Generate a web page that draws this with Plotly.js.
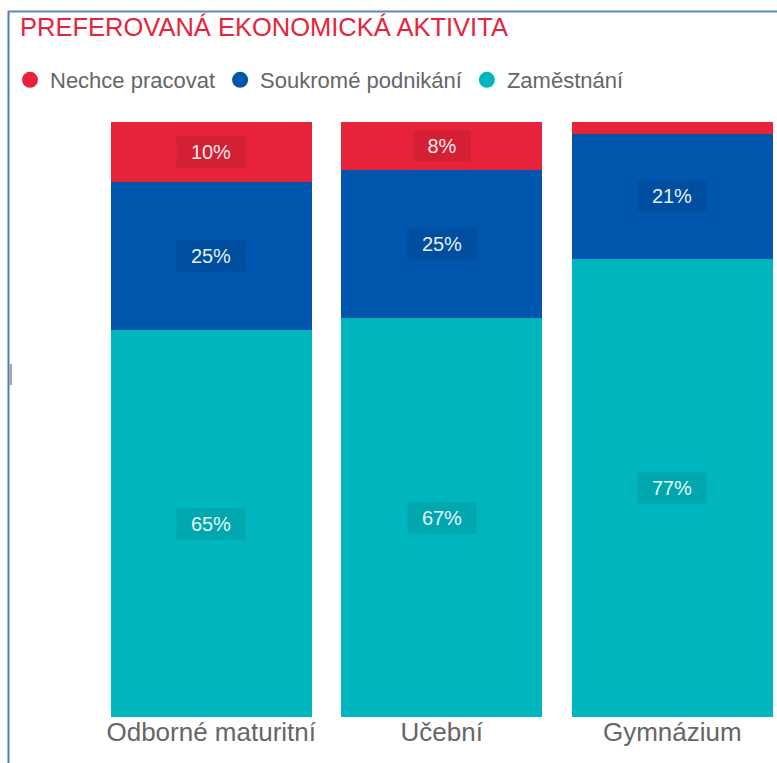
<!DOCTYPE html>
<html>
<head>
<meta charset="utf-8">
<script src="https://cdn.plot.ly/plotly-3.0.1.min.js"></script>
<style>
html,body{margin:0;padding:0;background:#fff;}
#chart{width:777px;height:763px;}
</style>
</head>
<body>
<div id="chart"></div>
<script>
// Data
const categories = ["Odborné maturitní", "Učební", "Gymnázium"];
const seriesNames = ["Nechce pracovat", "Soukromé podnikání", "Zaměstnání"];
const nechcePracovat = [10, 8, 2];
const soukromePodnikani = [25, 25, 21];
const zamestnani = [65, 67, 77];
const titleText = "PREFEROVANÁ EKONOMICKÁ AKTIVITA";

const colors = ["#E6233A", "#0055AD", "#00B6BE"];
const FONT = "Liberation Sans, Arial, sans-serif";
const W = 777, H = 763;
const M = {l: 96, r: 0, t: 122, b: 46};
const plotW = W - M.l - M.r, plotH = H - M.t - M.b;
const pxPerCat = 230.5;

const seriesValues = [nechcePracovat, soukromePodnikani, zamestnani];
// Stack order: bottom = Zaměstnání, then Soukromé, then Nechce on top
const stackOrder = [2, 1, 0];

const barTraces = stackOrder.map(i => ({
  type: "bar",
  name: seriesNames[i],
  x: categories,
  y: seriesValues[i],
  marker: {color: colors[i], line: {width: 0}},
  showlegend: false,
  hoverinfo: "skip"
}));

// Legend entries with circle symbols
const legendTraces = [0, 1, 2].map(i => ({
  type: "scatter",
  mode: "markers",
  name: seriesNames[i],
  x: [null], y: [null],
  marker: {color: colors[i], size: 16, symbol: "circle"},
  showlegend: true,
  hoverinfo: "skip"
}));

// Labels with dark translucent box, centered in each segment
const annotations = [];
categories.forEach((cat, ci) => {
  let base = 0;
  stackOrder.forEach(si => {
    const v = seriesValues[si][ci];
    if (v >= 5) {
      const txt = v + "%";
      annotations.push({
        x: cat, y: base + v / 2, xref: "x", yref: "y",
        text: txt, showarrow: false,
        font: {family: FONT, size: 20, color: "rgba(255,255,255,0.93)"},
        bgcolor: "rgba(0,0,0,0.08)",
        borderpad: 0,
        width: txt.length >= 3 ? 68 : 56,
        height: 30,
        xanchor: "center", yanchor: "middle"
      });
    }
    base += v;
  });
});

const px2paperX = px => (px - M.l) / plotW;
const px2paperY = py => (H - M.b - py) / plotH;

const shapes = [
  {type: "line", xref: "paper", yref: "paper",
   x0: px2paperX(8.5), x1: px2paperX(8.5), y0: px2paperY(11), y1: px2paperY(763),
   line: {color: "#4A7CC4", width: 2}},
  {type: "line", xref: "paper", yref: "paper",
   x0: px2paperX(8), x1: px2paperX(777), y0: px2paperY(11.5), y1: px2paperY(11.5),
   line: {color: "#5B87C8", width: 2}},
  {type: "rect", xref: "paper", yref: "paper",
   x0: px2paperX(9.5), x1: px2paperX(12), y0: px2paperY(364), y1: px2paperY(385),
   fillcolor: "#A6A6A6", line: {width: 0}}
];

const layout = {
  width: W, height: H,
  margin: M,
  paper_bgcolor: "#fff", plot_bgcolor: "#fff",
  barmode: "stack",
  bargap: 0.13,
  showlegend: true,
  title: {
    text: titleText,
    font: {family: FONT, size: 25.5, color: "#E6233A"},
    xref: "container", yref: "container",
    x: 20 / W, xanchor: "left",
    y: 1 - 18 / H, yanchor: "top"
  },
  legend: {
    orientation: "h",
    traceorder: "normal",
    xref: "container", yref: "container",
    x: 10 / W, xanchor: "left",
    y: 1 - 59 / H, yanchor: "top",
    font: {family: FONT, size: 22, color: "#666666"},
    itemclick: false, itemdoubleclick: false,
    bgcolor: "rgba(0,0,0,0)"
  },
  xaxis: {
    type: "category",
    range: [-0.5, -0.5 + plotW / pxPerCat],
    showgrid: false, zeroline: false, showline: false, ticks: "",
    tickfont: {family: FONT, size: 26, color: "#666666"},
    ticklabelstandoff: -3,
    fixedrange: true
  },
  yaxis: {
    range: [0, 100],
    visible: false, showgrid: false, zeroline: false,
    fixedrange: true
  },
  annotations: annotations,
  shapes: shapes
};

Plotly.newPlot("chart", barTraces.concat(legendTraces), layout, {displayModeBar: false, staticPlot: true});
</script>
</body>
</html>
